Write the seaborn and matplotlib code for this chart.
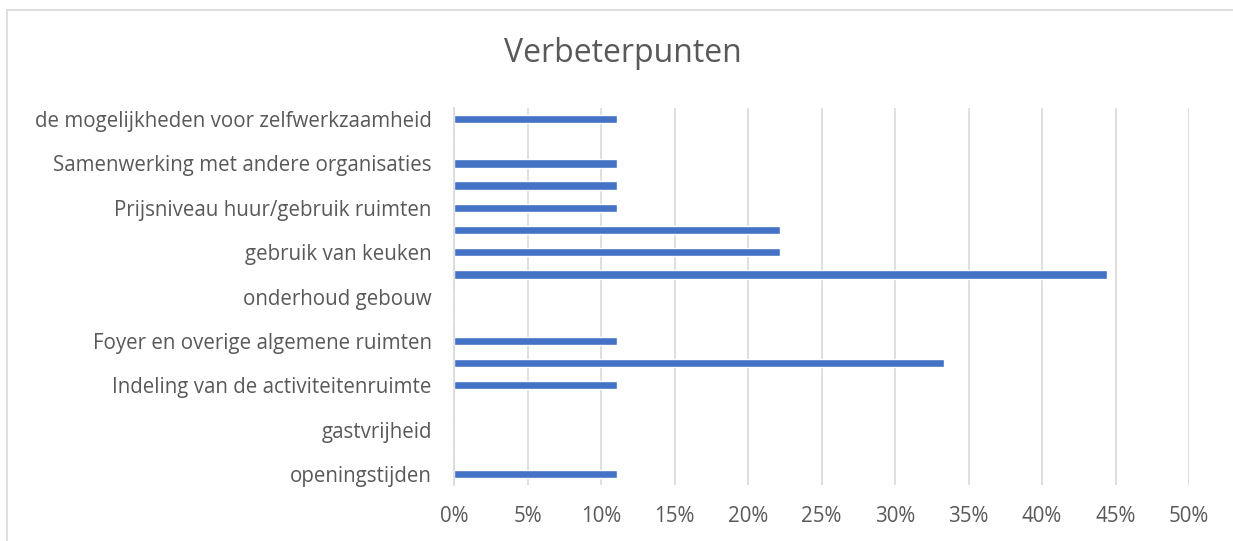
import numpy as np
import pandas as pd
import seaborn as sns
import matplotlib.pyplot as plt
from matplotlib.lines import Line2D
from matplotlib.ticker import PercentFormatter

# categories from top to bottom; labels that Excel skipped are left empty
labels = [
    "de mogelijkheden voor zelfwerkzaamheid", "",
    "Samenwerking met andere organisaties", "",
    "Prijsniveau huur/gebruik ruimten", "",
    "gebruik van keuken", "",
    "onderhoud gebouw", "",
    "Foyer en overige algemene ruimten", "",
    "Indeling van de activiteitenruimte", "",
    "gastvrijheid", "",
    "openingstijden",
]
values = [0.111, 0.0, 0.111, 0.111, 0.111, 0.222, 0.222, 0.444, 0.0,
          0.0, 0.111, 0.333, 0.111, 0.0, 0.0, 0.0, 0.111]
x_ticks = [0, 0.05, 0.10, 0.15, 0.20, 0.25, 0.30, 0.35, 0.40, 0.45, 0.50]

df = pd.DataFrame({"pos": range(len(values)), "value": values})

sns.set_theme(style="white")
plt.rcParams['font.family'] = ['Open Sans', 'DejaVu Sans']
grey = "#595959"

fig = plt.figure(figsize=(12.33, 5.41), dpi=100)
ax = fig.add_axes([454 / 1233, 1 - 485 / 541, (1189 - 454) / 1233, (485 - 108) / 541])

sns.barplot(data=df, x="value", y="pos", orient="h", color="#4472C4",
            width=0.38, saturation=1, ax=ax)

ax.set_xlim(0, 0.5)
ax.set_ylim(len(values) - 0.5, -0.5)
ax.set_xticks(x_ticks)
ax.xaxis.set_major_formatter(PercentFormatter(1.0, decimals=0))
ax.set_yticks(range(len(labels)))
ax.set_yticklabels(labels)
ax.tick_params(axis="both", length=0, colors=grey, labelsize=14.8)
ax.tick_params(axis="y", pad=16)
ax.tick_params(axis="x", pad=15)
ax.grid(axis="x", color="#d9d9d9", linewidth=1.2)
ax.set_axisbelow(True)
for s in ["top", "right", "bottom"]:
    ax.spines[s].set_visible(False)
ax.spines["left"].set_color("#d9d9d9")
ax.spines["left"].set_linewidth(1.2)
ax.set_xlabel("")
ax.set_ylabel("")

fig.text(623 / 1233, 1 - 53 / 541, "Verbeterpunten", ha="center", va="center",
         fontsize=23, color=grey)

# chart area border (top and left edges only are in view)
fig.lines.append(Line2D([7 / 1233, 1], [1 - 9.5 / 541] * 2, transform=fig.transFigure,
                        color="#d9d9d9", linewidth=1.2))
fig.lines.append(Line2D([7 / 1233] * 2, [0, 1 - 9.5 / 541], transform=fig.transFigure,
                        color="#d9d9d9", linewidth=1.2))

fig.savefig("out.png", dpi=100)
